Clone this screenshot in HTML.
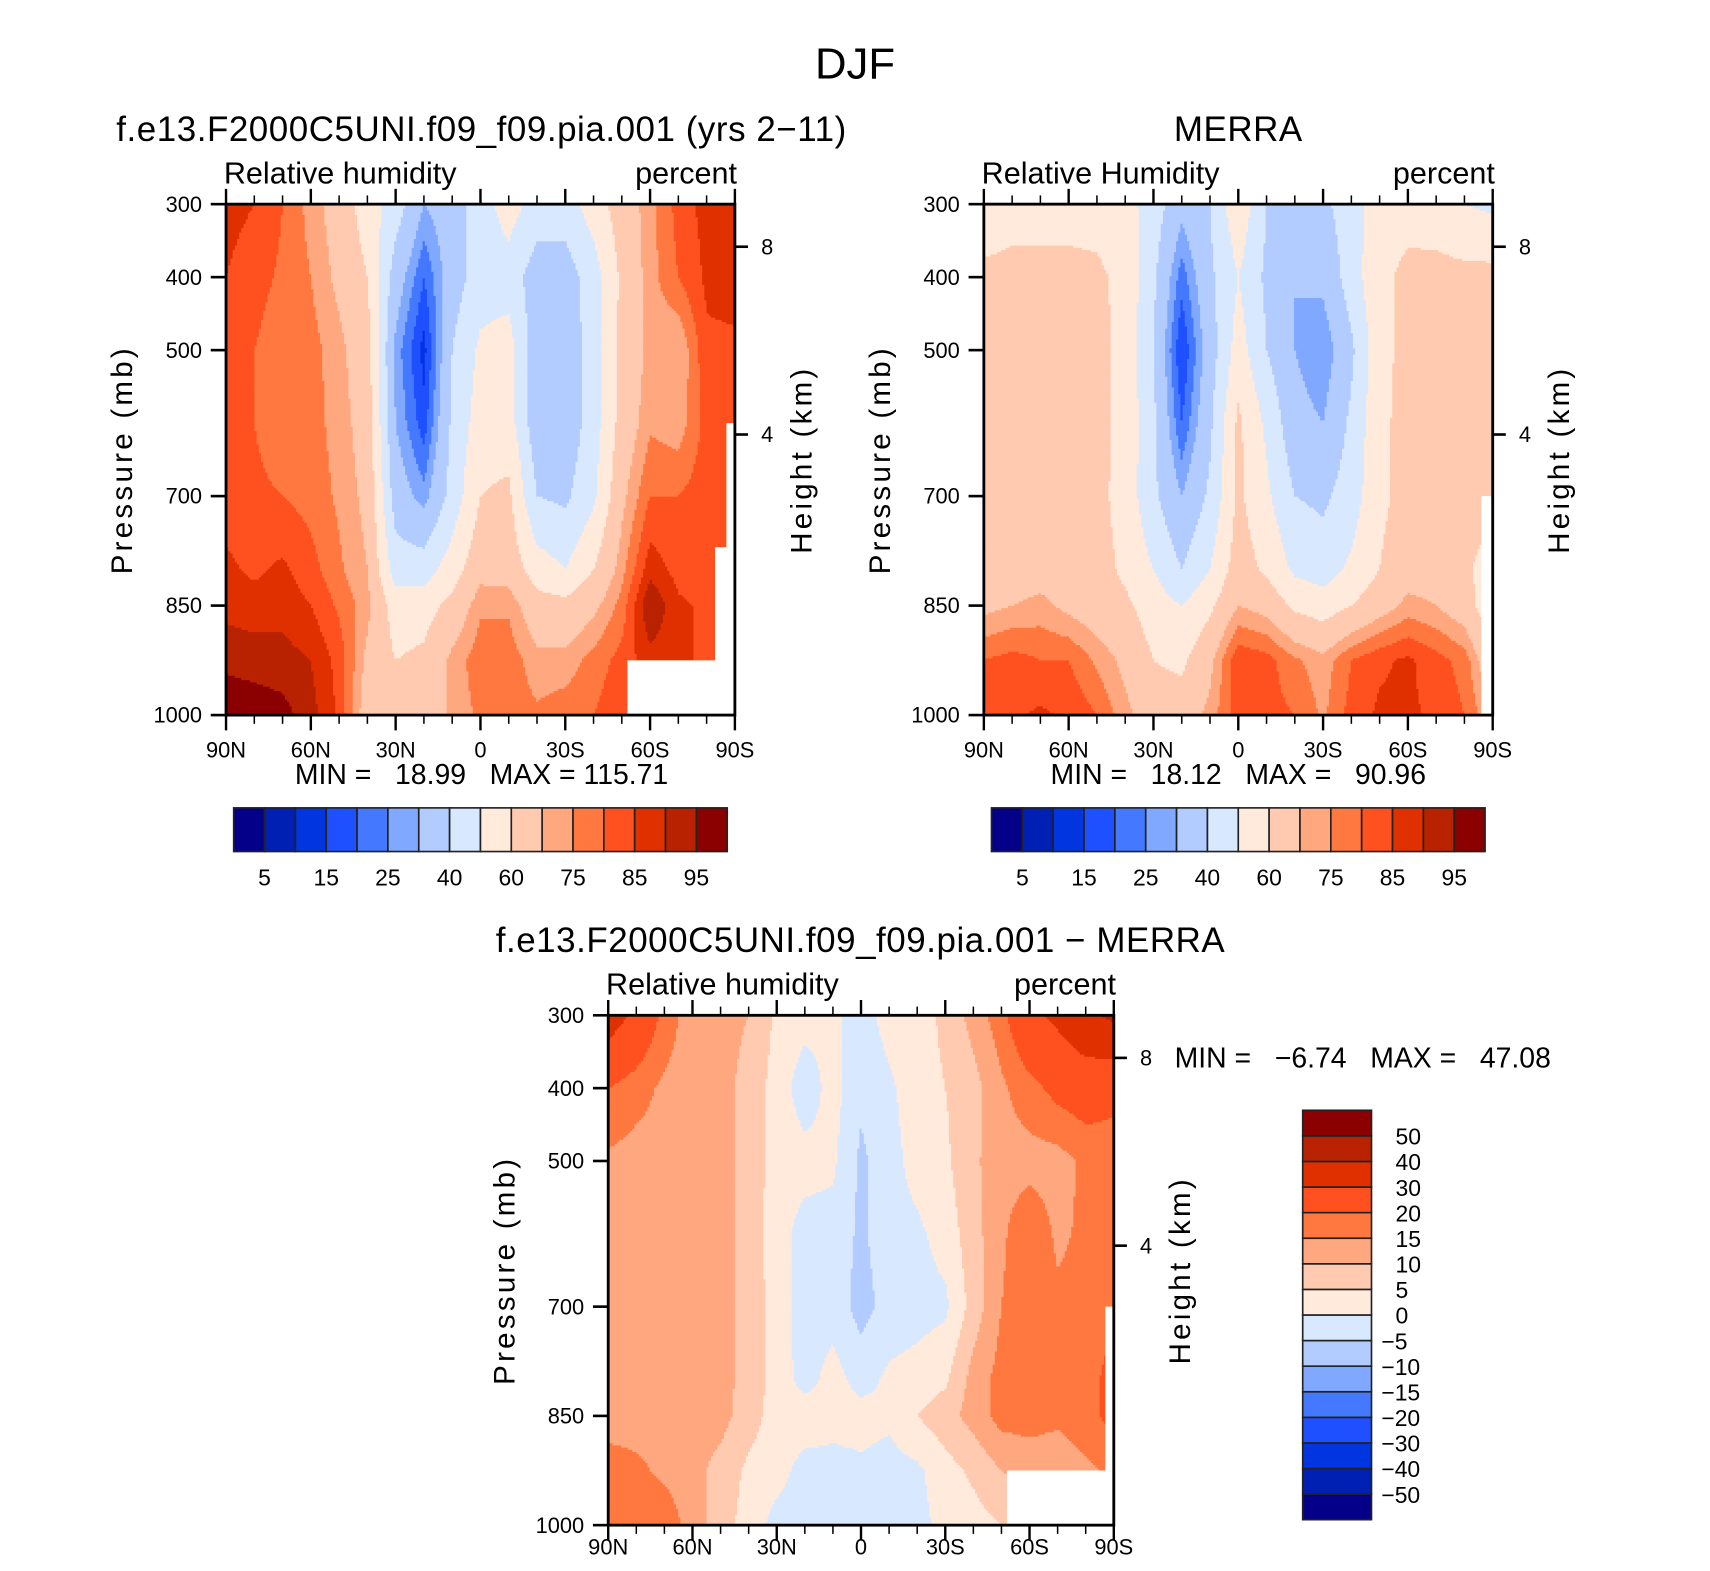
<!DOCTYPE html>
<html><head><meta charset="utf-8">
<style>
html,body{margin:0;padding:0;background:#fff;}
svg{display:block;}
text{font-family:"Liberation Sans",sans-serif;fill:#000;}
</style></head>
<body>
<svg id="fig" width="1710" height="1571" viewBox="0 0 1566 1439" preserveAspectRatio="none" xmlns="http://www.w3.org/2000/svg">
<rect x="0" y="0" width="1566" height="1439" fill="#fff"/>
<text x="783" y="72" font-size="40" text-anchor="middle">DJF</text>
</svg>
<script>
// ---- data ----
const latLabels = ["90N","60N","30N","0","30S","60S","90S"];
const levels = [300,400,500,600,700,800,850,925,1000];
const pressureTicks = [300,400,500,700,850,1000];
const rhBounds = [5,10,15,20,25,30,40,50,60,70,75,80,85,90,95];
const rhTickLabels = ["5","15","25","40","60","75","85","95"];
const diffBounds = [-50,-40,-30,-20,-15,-10,-5,0,5,10,15,20,30,40,50];
const diffTickLabels = ["-50","-40","-30","-20","-15","-10","-5","0","5","10","15","20","30","40","50"];
const palette = ["#05008a","#0020b4","#0035e0","#1f50ff","#4479ff","#80a8ff","#b3ccff","#d8e8ff","#ffeadb","#ffcab0","#ffa880","#ff7840","#ff5020","#e03000","#b82200","#8b0000"];
// rows: 300..1000 hPa; columns: 90N..90S every 10 deg
const modelRH = [
[87,85,80,73,66,55,45,30,35,45,55,45,45,55,65,73,82,87,88],
[85,82,79,75,68,60,35,20,35,45,45,35,35,45,62,73,80,86,87],
[82,80,77,77,72,64,28,13,40,52,55,33,33,45,63,72,70,84,84],
[82,80,77,77,73,66,30,17,42,55,55,33,33,45,64,74,72,82,83],
[83,81,80,78,74,68,35,27,44,60,62,40,38,48,68,80,80,83,83],
[86,84,86,82,76,70,45,45,55,67,66,55,50,60,73,88,83,82,83],
[88,87,88,85,79,72,55,56,63,74,74,64,63,68,77,95,86,84,84],
[94,93,92,90,83,68,60,62,72,78,78,72,72,77,82,88,86,84,84],
[98,98,97,92,84,65,60,62,72,76,78,76,78,80,84,88,86,84,84]];
const merraRH = [
[52,56,56,56,56,54,45,33,40,58,40,38,38,45,56,57,55,50,48],
[63,63,63,63,62,57,42,22,38,50,38,30,32,45,58,62,63,63,63],
[63,63,63,63,63,57,40,15,35,55,40,30,25,38,57,63,63,63,63],
[63,63,63,63,63,57,42,20,38,62,48,33,30,42,58,63,63,63,63],
[63,63,63,63,63,56,42,30,42,62,52,40,38,45,58,63,63,63,65],
[64,65,66,66,64,58,50,40,50,65,58,48,45,52,60,66,66,62,55],
[68,70,72,68,65,62,55,50,58,70,67,58,55,60,66,72,70,65,52],
[80,82,80,80,74,68,60,58,68,84,82,76,72,80,84,86,82,78,62],
[84,84,86,84,80,72,65,65,72,83,82,80,74,82,86,86,84,80,70]];
const diffRH = [
[35,28,18,12,12,10,4,2,1,-2,2,3,6,12,18,28,32,38,42],
[20,17,14,13,12,8,3,-3,2,-4,-1,3,5,8,14,18,22,24,22],
[14,13,13,13,12,8,3,2,1,-6,-2,2,4,9,13,13,13,16,17],
[14,13,13,13,12,8,2,-2,-2,-6,-2,-1,2,8,14,19,14,16,17],
[13,13,13,13,12,8,3,-3,-2,-7,-3,-2,-1,7,15,19,16,17,19],
[13,13,13,13,12,8,3,-2,2,-2,1,2,4,12,17,17,17,18,22],
[13,13,13,13,12,7,3,3,2,2,1,5,8,12,17,17,16,18,22],
[17,16,14,12,8,4,2,-2,-2,-1,-2,-1,3,6,10,12,12,14,16],
[20,20,18,13,7,3,-2,-3,-3,-1,-2,-2,2,3,5,8,10,12,14]];

const NS="http://www.w3.org/2000/svg";
const svg=document.getElementById('fig');
function mk(tag,attrs,parent){const e=document.createElementNS(NS,tag);for(const k in attrs)e.setAttribute(k,attrs[k]);(parent||svg).appendChild(e);return e;}
function txt(s,x,y,size,anchor,parent,rot){const t=mk('text',{x:x,y:y,'font-size':size,'text-anchor':anchor||'start'},parent);if(rot)t.setAttribute('transform','rotate(-90 '+x+' '+y+')');t.textContent=s;return t;}
function colorIdx(v,b){let i=0;while(i<b.length&&v>=b[i])i++;return i;}

function drawPlot(P){
  const g=mk('g',{});
  
  
  const W=P.x1-P.x0,H=P.y1-P.y0;
  const xScale=lat=>P.x0+(90-lat)/180*W;
  const yScale=p=>P.y0+(p-300)/700*H;
  const D=P.data;
  const valueAt=(px,py)=>{
    const p=300+(py-P.y0)/H*700;
    let r=0;while(r<levels.length-2&&p>levels[r+1])r++;
    const fy=Math.min(1,Math.max(0,(p-levels[r])/(levels[r+1]-levels[r])));
    const fc=Math.min(18,Math.max(0,(px-P.x0)/W*18));let c0=Math.min(17,Math.floor(fc));const fx=fc-c0;
    return (D[r][c0]*(1-fx)+D[r][c0+1]*fx)*(1-fy)+(D[r+1][c0]*(1-fx)+D[r+1][c0+1]*fx)*fy;
  };
  const step=2;
  const addRect=(x,y,w,h,c)=>{
    const rc=mk('rect',{x:x,y:y,width:w+0.6,height:h+0.6,fill:palette[c]},g);
    
    
  };
  for(let py=P.y0;py<P.y1;py+=step){
    const h=Math.min(step,P.y1-py);
    let runStart=P.x0,runC=-1;
    for(let px=P.x0;px<P.x1;px+=step){
      const c=colorIdx(valueAt(Math.min(px+step/2,P.x1),py+h/2),P.bounds);
      if(c!==runC){
        if(runC>=0)addRect(runStart,py,px-runStart,h,runC);
        runStart=px;runC=c;
      }
    }
    if(runC>=0)addRect(runStart,py,P.x1-runStart,h,runC);
  }
  P.missing.forEach(m=>{
    const rc=mk('rect',{x:xScale(m[0]),y:yScale(m[2]),width:xScale(m[1])-xScale(m[0]),height:yScale(m[3])-yScale(m[2]),fill:'#fff'},g);
    
    
  });
  const fr=mk('rect',{x:P.x0,y:P.y0,width:W,height:H,fill:'none',stroke:'#000','stroke-width':2.6},g);
  
  
  for(let lat=90;lat>=-90;lat-=10){
    const x=xScale(lat);const major=lat%30===0;const L=major?14:8;
    mk('line',{x1:x,y1:P.y1,x2:x,y2:P.y1+L,stroke:'#000','stroke-width':major?2.2:1.4},g);
    mk('line',{x1:x,y1:P.y0,x2:x,y2:P.y0-L,stroke:'#000','stroke-width':major?2.2:1.4},g);
  }
  latLabels.forEach((s,i)=>{const t=txt(s,xScale(90-i*30),P.y1+P.lab,20,'middle',g);
    });
  pressureTicks.forEach(p=>{const y=yScale(p);
    mk('line',{x1:P.x0-14,y1:y,x2:P.x0,y2:y,stroke:'#000','stroke-width':2.4},g);
    const t=txt(String(p),P.x0-22,y+7,20,'end',g);
    });
  [[8,P.y0+39],[4,P.y0+211]].forEach(k=>{
    mk('line',{x1:P.x1,y1:k[1],x2:P.x1+12,y2:k[1],stroke:'#000','stroke-width':2.4},g);
    const t=txt(String(k[0]),P.x1+24,k[1]+7,20,'start',g);
    });
  const a=txt('Pressure  (mb)',P.x0-86,P.y0+H/2,27,'middle',g,true);
  a.setAttribute('letter-spacing','3');
  
  const b=txt('Height  (km)',P.x1+70,P.y0+H/2,27,'middle',g,true);
  b.setAttribute('letter-spacing','3');
  
  const l=txt(P.left,P.x0-2,P.y0-19,28,'start',g);
  
  const rr=txt('percent',P.x1+2,P.y0-19,28,'end',g);
  
  const tt=txt(P.title,P.tx,P.y0-58,32,'middle',g);
  tt.setAttribute('letter-spacing','0.5');
  
}

drawPlot({name:'model-panel',x0:207,x1:673,y0:187,y1:655,lab:39,data:modelRH,bounds:rhBounds,
  missing:[[-52,-90,925,1000],[-87,-90,600,1000],[-83,-90,770,1000]],
  left:'Relative humidity',title:'f.e13.F2000C5UNI.f09_f09.pia.001 (yrs 2\u221211)',tx:441});
drawPlot({name:'merra-panel',x0:901,x1:1367,y0:187,y1:655,lab:39,data:merraRH,bounds:rhBounds,
  missing:[[-86,-90,700,1000]],left:'Relative Humidity',title:'MERRA',tx:1134});
drawPlot({name:'difference-panel',x0:557,x1:1020,y0:930,y1:1397,lab:27,data:diffRH,bounds:diffBounds,
  missing:[[-52,-90,925,1000],[-87,-90,700,1000]],left:'Relative humidity',title:'f.e13.F2000C5UNI.f09_f09.pia.001 \u2212 MERRA',tx:788});

[[441,718,'MIN =   18.99   MAX = 115.71'],[1134,718,'MIN =   18.12   MAX =   90.96'],[1248,978,'MIN =   \u22126.74   MAX =   47.08']].forEach(m=>{
  const t=txt(m[2],m[0],m[1],26,'middle');t.style.whiteSpace='pre';
  });

function hbar(x0,name){
  const g=mk('g',{});
  const w=452/16;
  palette.forEach((c,i)=>{const r=mk('rect',{x:x0+i*w,y:740,width:w,height:40,fill:c,stroke:'#222','stroke-width':1.5},g);
    });
  rhTickLabels.forEach((s,i)=>{const t=txt(s,x0+(1+2*i)*w,811,21,'middle',g);
    });
}
hbar(214,'model-colorbar');hbar(908,'merra-colorbar');
(function(){
  const g=mk('g',{});
  const h=375/16;
  palette.forEach((c,i)=>{const r=mk('rect',{x:1193,y:1017+(15-i)*h,width:63,height:h,fill:c,stroke:'#222','stroke-width':1.5},g);
    });
  diffTickLabels.forEach((s,i)=>{const t=txt(s.replace('-','\u2212'),1265+(s[0]==='-'?0:13),1017+(15-i)*h+8,21,'start',g);
    });
})();
</script>
</body></html>
